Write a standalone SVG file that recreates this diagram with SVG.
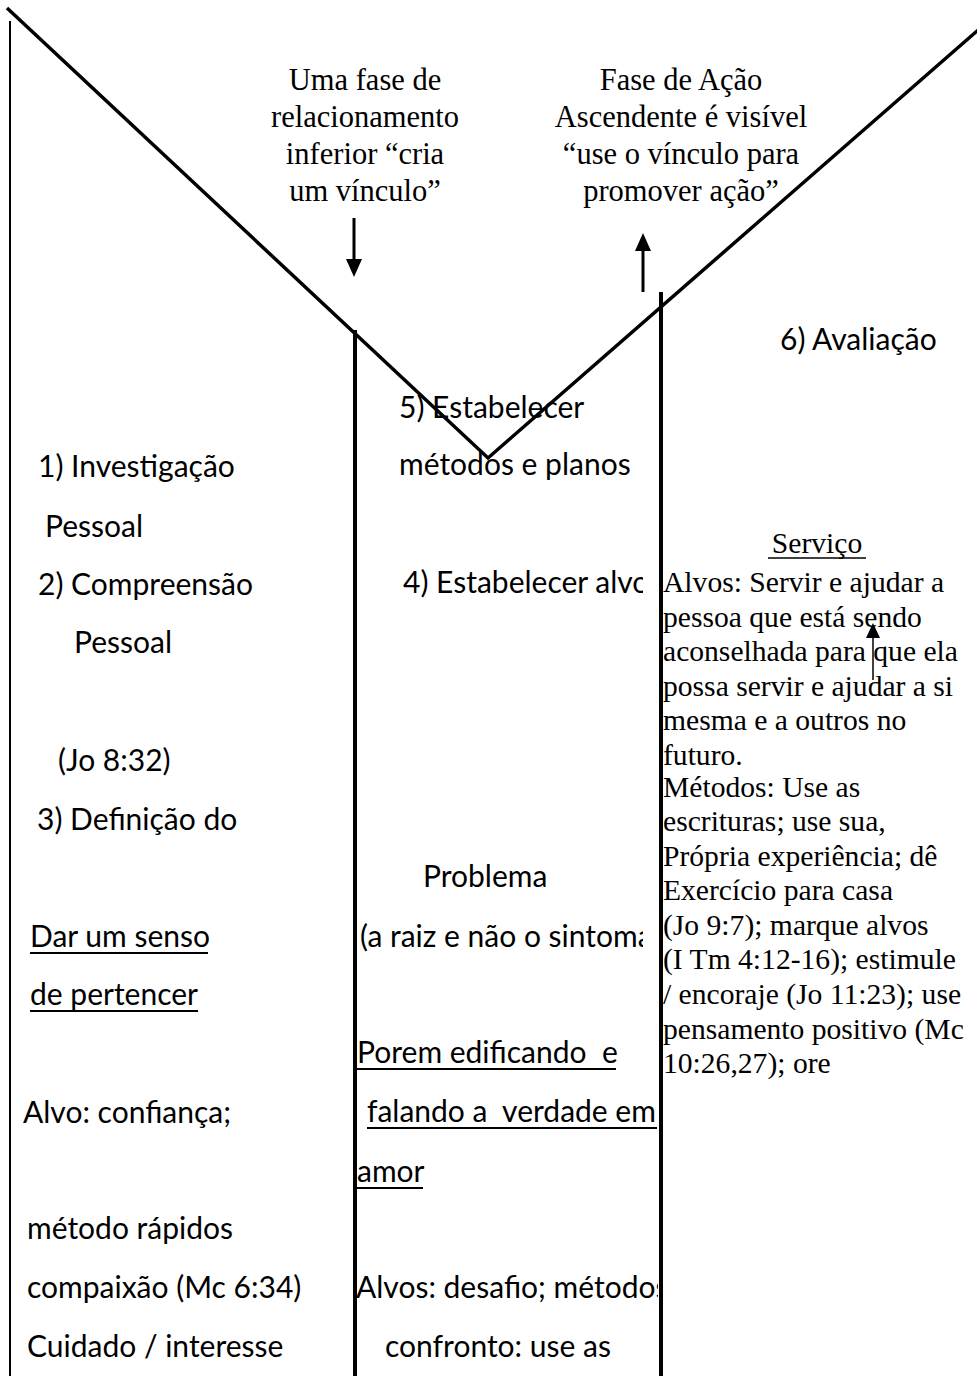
<svg xmlns="http://www.w3.org/2000/svg" width="977" height="1376" viewBox="0 0 977 1376">
<style>
.s{font-family:Lato,"Liberation Sans",sans-serif;font-size:30px;fill:#000}
.t{font-family:"Liberation Serif",serif;font-size:30.5px;fill:#000;text-anchor:middle}
.r{font-family:"Liberation Serif",serif;font-size:29.6px;fill:#000}
.ln{stroke:#000;fill:none}
.u{stroke:#000;stroke-width:2}
</style>
<defs>
<clipPath id="c1"><rect x="356" y="0" width="287" height="1376"/></clipPath>
<clipPath id="c2"><rect x="356" y="0" width="302" height="1376"/></clipPath>
</defs>
<rect width="977" height="1376" fill="#fff"/>
<g id="connectors">
<line class="ln" x1="10" y1="21" x2="10" y2="1376" stroke-width="2"/>
<polyline class="ln" points="7,8 488,458 985,24" stroke-width="3.5"/>
<line class="ln" x1="355" y1="330" x2="355" y2="1376" stroke-width="4"/>
<line class="ln" x1="661" y1="292" x2="661" y2="1376" stroke-width="4"/>
<line class="ln" x1="354" y1="218" x2="354" y2="262" stroke-width="3"/>
<polygon points="346,259 362,259 354,277" fill="#000"/>
<line class="ln" x1="643" y1="292" x2="643" y2="248" stroke-width="3"/>
<polygon points="635,251 651,251 643,233" fill="#000"/>
<line class="ln" x1="873" y1="680" x2="873" y2="636" stroke-width="1.5"/>
<polygon points="866,638 880,638 873,623" fill="#000"/>
</g>
<g id="top-left-label">
<text class="t" x="365" y="90">Uma fase de</text>
<text class="t" x="365" y="127">relacionamento</text>
<text class="t" x="365" y="164">inferior “cria</text>
<text class="t" x="365" y="201">um vínculo”</text>
</g>
<g id="top-right-label">
<text class="t" x="681" y="90">Fase de Ação</text>
<text class="t" x="681" y="127">Ascendente é visível</text>
<text class="t" x="681" y="164">“use o vínculo para</text>
<text class="t" x="681" y="201">promover ação”</text>
</g>
<g id="left-column">
<text class="s" x="38" y="477">1) Investigação</text>
<text class="s" x="45" y="537">Pessoal</text>
<text class="s" x="38" y="595">2) Compreensão</text>
<text class="s" x="74" y="653">Pessoal</text>
<text class="s" x="58" y="771">(Jo 8:32)</text>
<text class="s" x="37" y="830">3) Definição do</text>
<text class="s" x="30" y="947">Dar um senso</text>
<line class="u" x1="30" y1="953" x2="208" y2="953"/>
<text class="s" x="30" y="1005">de pertencer</text>
<line class="u" x1="30" y1="1011" x2="198" y2="1011"/>
<text class="s" x="23" y="1123">Alvo: confiança;</text>
<text class="s" x="27" y="1239">método rápidos</text>
<text class="s" x="27" y="1298">compaixão (Mc 6:34)</text>
<text class="s" x="27" y="1357">Cuidado / interesse</text>
</g>
<g id="middle-column">
<text class="s" x="399" y="418">5) Estabelecer</text>
<text class="s" x="399" y="475">métodos e planos</text>
<g clip-path="url(#c1)">
<text class="s" x="403" y="593">4) Estabelecer alvo</text>
<text class="s" x="360" y="947">(a raiz e não o sintoma)</text>
</g>
<text class="s" x="423" y="887">Problema</text>
<g clip-path="url(#c2)">
<text class="s" x="357" y="1063" xml:space="preserve">Porem edificando  e</text>
<line class="u" x1="357" y1="1069" x2="616" y2="1069"/>
<text class="s" x="367" y="1122" xml:space="preserve">falando a  verdade em</text>
<line class="u" x1="367" y1="1128" x2="657" y2="1128"/>
<text class="s" x="357" y="1182">amor</text>
<line class="u" x1="357" y1="1188" x2="423" y2="1188"/>
<text class="s" x="356" y="1298">Alvos: desafio; métodos</text>
<text class="s" x="385" y="1357">confronto: use as</text>
</g>
</g>
<g id="right-column">
<text class="s" x="780" y="350">6) Avaliação</text>
<text class="r" x="817" y="553" text-anchor="middle">Serviço</text>
<line x1="768" y1="558" x2="866" y2="558" stroke="#000" stroke-width="1.5"/>
<text class="r" x="663" y="592">Alvos: Servir e ajudar a</text>
<text class="r" x="663" y="627">pessoa que está sendo</text>
<text class="r" x="663" y="661">aconselhada para que ela</text>
<text class="r" x="663" y="696">possa servir e ajudar a si</text>
<text class="r" x="663" y="730">mesma e a outros no</text>
<text class="r" x="663" y="765">futuro.</text>
<text class="r" x="663" y="797">Métodos: Use as</text>
<text class="r" x="663" y="831">escrituras; use sua,</text>
<text class="r" x="663" y="866">Própria experiência; dê</text>
<text class="r" x="663" y="900">Exercício para casa</text>
<text class="r" x="663" y="935">(Jo 9:7); marque alvos</text>
<text class="r" x="663" y="969">(I Tm 4:12-16); estimule</text>
<text class="r" x="663" y="1004">/ encoraje (Jo 11:23); use</text>
<text class="r" x="663" y="1039">pensamento positivo (Mc</text>
<text class="r" x="663" y="1073">10:26,27); ore</text>
</g>
</svg>
